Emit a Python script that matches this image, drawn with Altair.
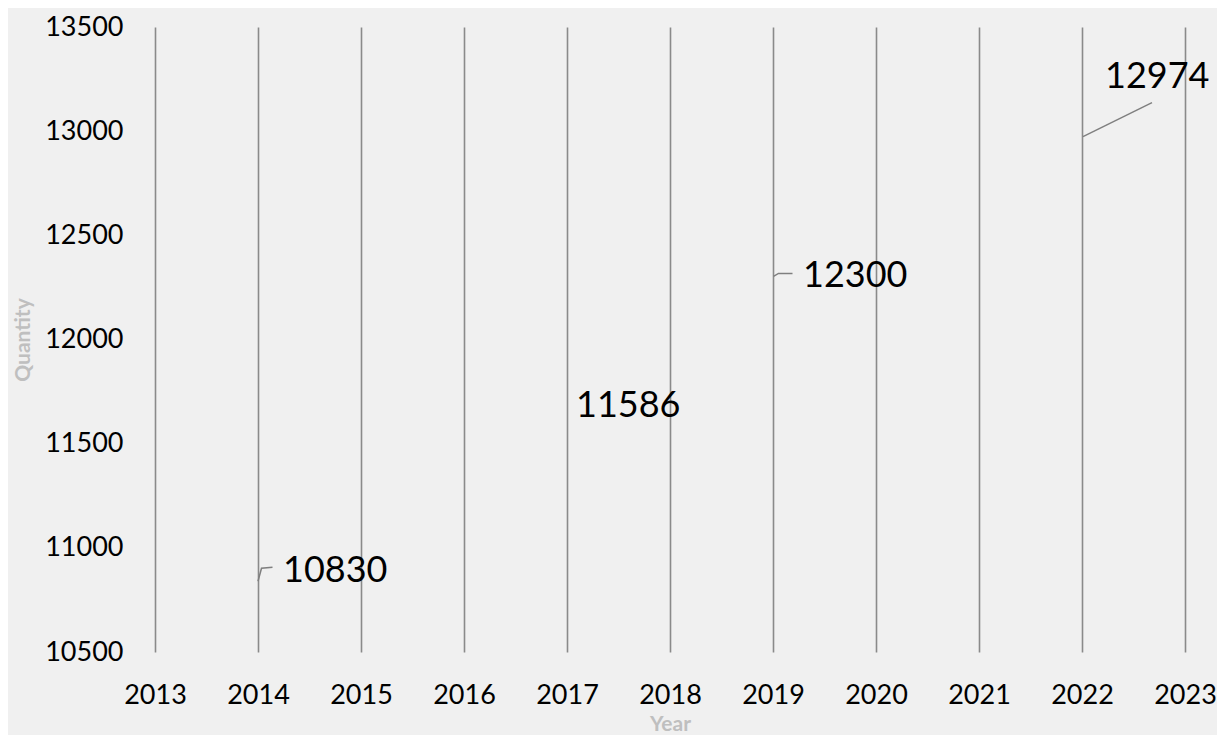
import altair as alt
import pandas as pd

# ---- data ----
years = [2014, 2017, 2019, 2022]
values = [10830, 11586, 12300, 12974]

axis_years = [2013, 2014, 2015, 2016, 2017, 2018, 2019, 2020, 2021, 2022, 2023]
y_ticks = [10500, 11000, 11500, 12000, 12500, 13000, 13500]

# label offsets from their data point (pixels)
label_dx = [25, 9, 30, 23]
label_dy = [-1, -9, 10, -49]

# leader line polylines, pixel offsets from their data point
leader_year = [2014, 2014, 2014, 2019, 2019, 2019, 2022, 2022]
leader_order = [0, 1, 2, 0, 1, 2, 0, 1]
leader_px = [0, 3.5, 14.5, 0.5, 5.5, 19.5, 1, 70]
leader_py = [-2, -15, -16, -0.6, -3.6, -3.6, 0, -34]

W, H = 1030, 625
X0, X1 = 2013, 2023
Y0, Y1 = 10500, 13500
ppx = W / (X1 - X0)
ppy = H / (Y1 - Y0)

df = pd.DataFrame({"Year": years, "Quantity": values, "dx": label_dx, "dy": label_dy,
                   "label": [str(v) for v in values]})
val_by_year = dict(zip(years, values))
leaders = pd.DataFrame({"Year": leader_year, "ord": leader_order, "px": leader_px, "py": leader_py})
leaders["Quantity"] = leaders["Year"].map(val_by_year)

FONT = "Lato"

x_scale = alt.Scale(domain=[X0, X1], nice=False, zero=False)
y_scale = alt.Scale(domain=[Y0, Y1], nice=False, zero=False)

x_axis = alt.Axis(values=axis_years, format="d", grid=True, gridColor="#8a8a8a", gridWidth=1.6,
                  ticks=False, domain=False, labelFont=FONT, labelFontSize=27, labelColor="#000000",
                  labelPadding=30, title="Year", titleFont=FONT, titleFontSize=21, titleFontWeight="bold",
                  titleColor="#bfbfbf", titleY=78, titleBaseline="alphabetic", labelFlush=False,
                  labelOverlap=False)
y_axis = alt.Axis(values=y_ticks, format="d", grid=False, ticks=False, domain=False,
                  labelFont=FONT, labelFontSize=27, labelColor="#000000", labelPadding=32,
                  title="Quantity", titleFont=FONT, titleFontSize=21, titleFontWeight="bold",
                  titleColor="#bfbfbf", titleX=-126, titleY=H / 2, titleAngle=270,
                  titleAlign="center", titleBaseline="alphabetic", labelFlush=False,
                  labelOverlap=False)

base = alt.Chart(df).mark_point(opacity=0).encode(
    x=alt.X("Year:Q", scale=x_scale, axis=x_axis),
    y=alt.Y("Quantity:Q", scale=y_scale, axis=y_axis),
)

labels = alt.Chart(df).transform_calculate(
    lx=f"datum.Year + datum.dx / {ppx}",
    ly=f"datum.Quantity - datum.dy / {ppy}",
).mark_text(font=FONT, fontSize=36, align="left", baseline="alphabetic", color="#000000").encode(
    x=alt.X("lx:Q", scale=x_scale, axis=x_axis),
    y=alt.Y("ly:Q", scale=y_scale, axis=y_axis),
    text="label:N",
)

lead = alt.Chart(leaders).transform_calculate(
    lx=f"datum.Year + datum.px / {ppx}",
    ly=f"datum.Quantity - datum.py / {ppy}",
).mark_line(color="#7f7f7f", strokeWidth=1.5).encode(
    x=alt.X("lx:Q", scale=x_scale, axis=x_axis),
    y=alt.Y("ly:Q", scale=y_scale, axis=y_axis),
    detail="Year:N",
    order="ord:Q",
)

chart = alt.layer(base, lead, labels).properties(
    width=W, height=H,
    autosize=alt.AutoSizeParams(type="none"),
    padding={"left": 147, "top": 19, "right": 32, "bottom": 83},
    background="#f0f0f0",
).configure_view(stroke=None)

chart.save("out.html", embed_options={"renderer": "svg", "actions": False})
